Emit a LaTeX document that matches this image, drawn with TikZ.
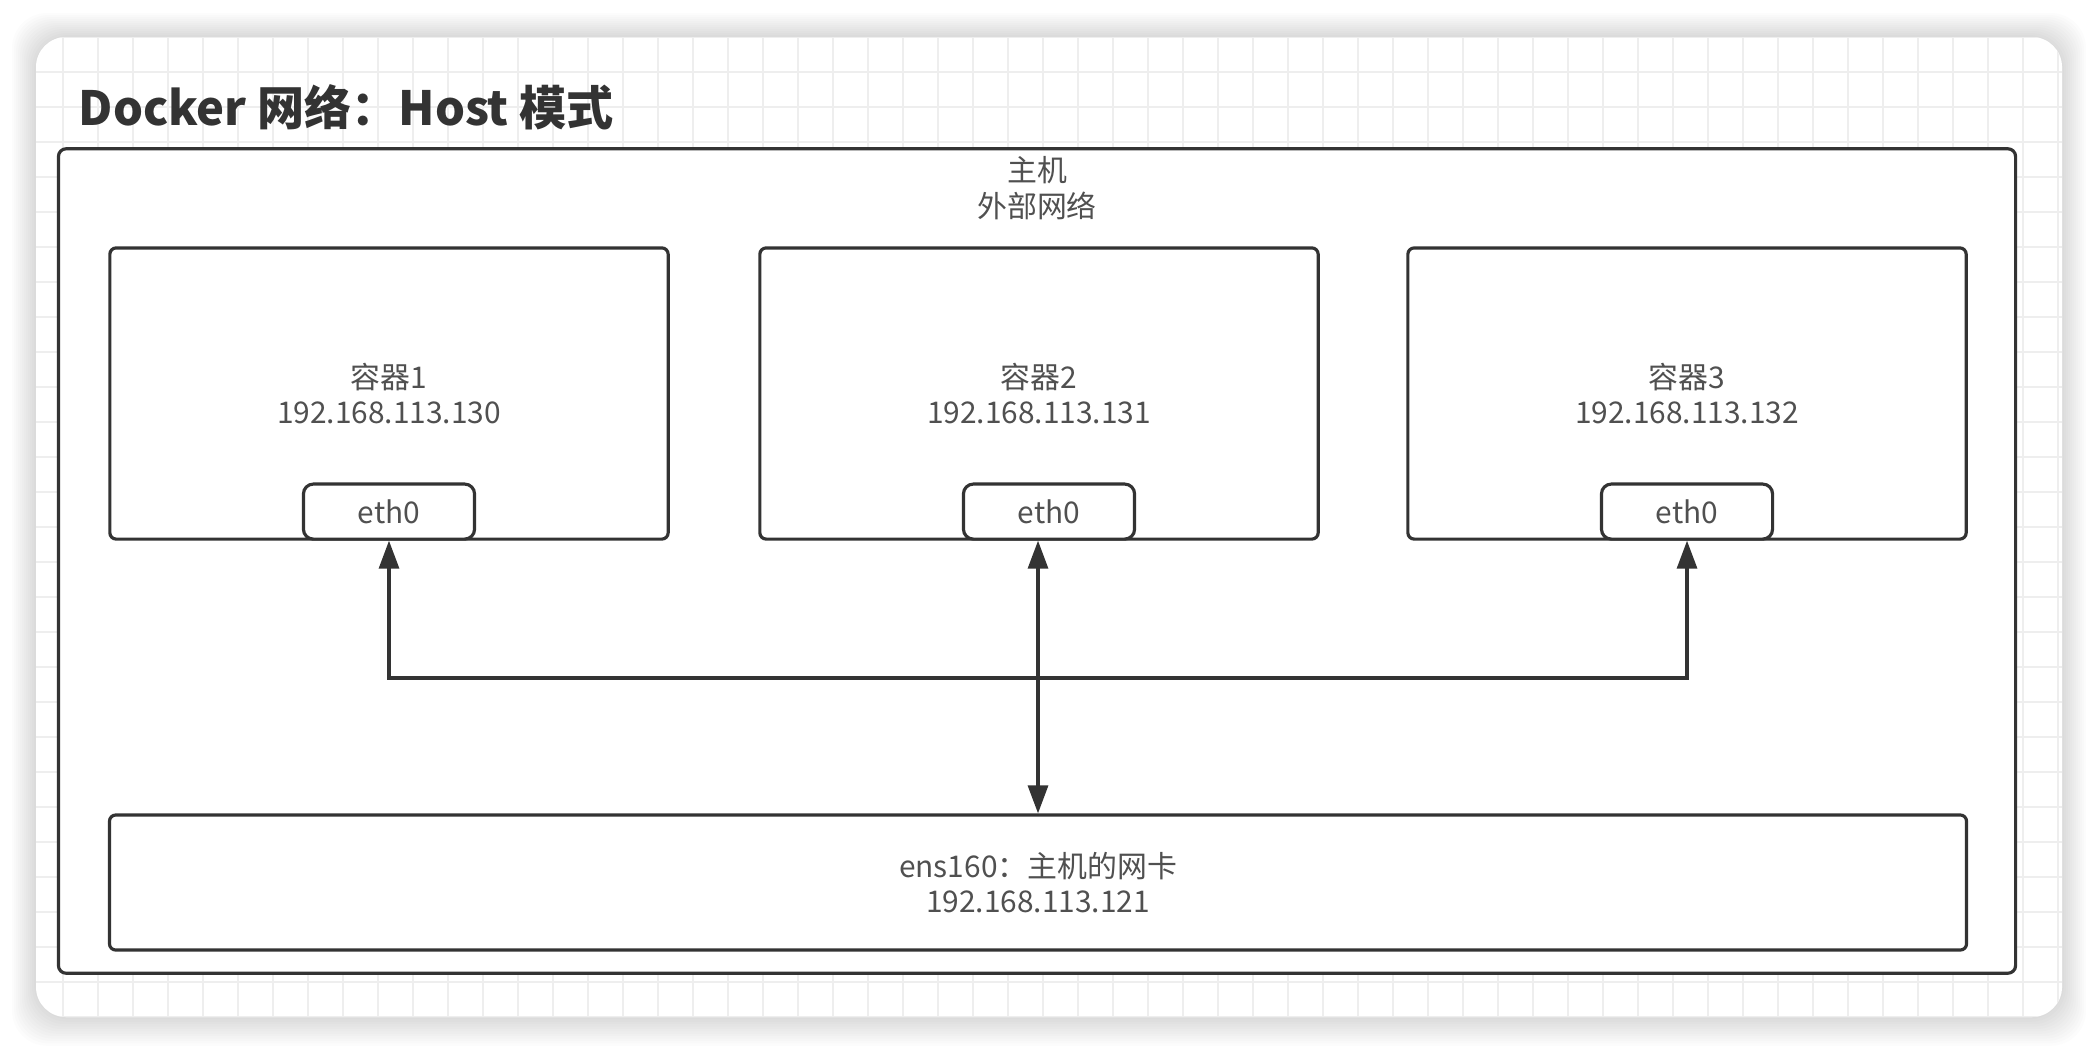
\documentclass[tikz,border=0pt]{standalone}
\usepackage{fontspec}
\setmainfont{Noto Sans CJK SC}
\usetikzlibrary{positioning,calc,arrows.meta}
\definecolor{inkgrey}{HTML}{333333}
\definecolor{textgrey}{HTML}{505050}
\definecolor{gridgrey}{HTML}{EEEEEE}
\tikzset{
  boxline/.style={draw=inkgrey,line width=0.9pt,fill=white,inner sep=0pt,align=center,
        text=textgrey,font=\fontsize{8.5}{10.2}\selectfont},
  hostbox/.style={boxline,rounded corners=2.2pt,minimum width=19.56cm,minimum height=8.24cm},
  ctrbox/.style={boxline,rounded corners=1.8pt,minimum width=5.58cm,minimum height=2.91cm},
  ethbox/.style={boxline,rounded corners=2.8pt,minimum width=1.71cm,minimum height=0.55cm},
  nicbox/.style={boxline,rounded corners=1.8pt,minimum width=18.56cm,minimum height=1.35cm},
  link/.style={draw=inkgrey,line width=0.9pt,-{Triangle[length=2.8mm,width=2mm]}},
}
\newcommand{\dockerctr}[5]{%
  \node[ctrbox] (#1) at (#2,393.5) {#3\\#4};
  \node[ethbox,anchor=south] (#1eth) at ([xshift=#5]#1.south) {eth0};
}

\begin{document}
\begin{tikzpicture}[x=0.01cm,y=-0.01cm]
  \useasboundingbox (0,0) rectangle (2098,1054);
  % window card with shadow and grid
  \foreach \s in {1,...,12}
    \fill[black,opacity=0.012,rounded corners=0.35cm]
      (36-\s*2,37-\s*2) rectangle (2062+\s*2,1017+\s*2.4);
  \fill[white,rounded corners=0.3cm] (36,37) rectangle (2062,1017);
  \begin{scope}
    \clip[rounded corners=0.3cm] (36,37) rectangle (2062,1017);
    \foreach \gx in {28,63,...,2062}
      \draw[gridgrey,line width=0.5pt] (\gx,37) -- (\gx,1017);
    \foreach \gy in {37,72,...,1017}
      \draw[gridgrey,line width=0.5pt] (36,\gy) -- (2062,\gy);
  \end{scope}

  \node[anchor=west,inner sep=0pt,text=inkgrey,font=\bfseries\fontsize{13.4}{15}\selectfont]
        (title) at (78,107) {Docker 网络：Host 模式};

  % host
  \node[hostbox] (host) at (1037,561) {};
  \node[text=textgrey,align=center,font=\fontsize{8.5}{10.2}\selectfont]
        (hostlbl) at (1037,188) {主机\\外部网络};

  % containers
  \dockerctr{ctra}{389}{容器1}{192.168.113.130}{0cm}
  \dockerctr{ctrb}{1039}{容器2}{192.168.113.131}{0.1cm}
  \dockerctr{ctrc}{1687}{容器3}{192.168.113.132}{0cm}

  % host nic
  \node[nicbox] (nic) at (1038,882.5) {ens160：主机的网卡\\192.168.113.121};

  % links
  \coordinate (busy) at (0,678);
  \coordinate (bus) at (nic.north |- busy);
  \draw[link] (bus) -| (ctra.south);
  \draw[link] (bus) -| (ctrc.south);
  \draw[link,{Triangle[length=2.8mm,width=2mm]}-{Triangle[length=2.8mm,width=2mm]}]
        (nic.north) -- (nic.north |- ctrb.south);
\end{tikzpicture}
\end{document}
